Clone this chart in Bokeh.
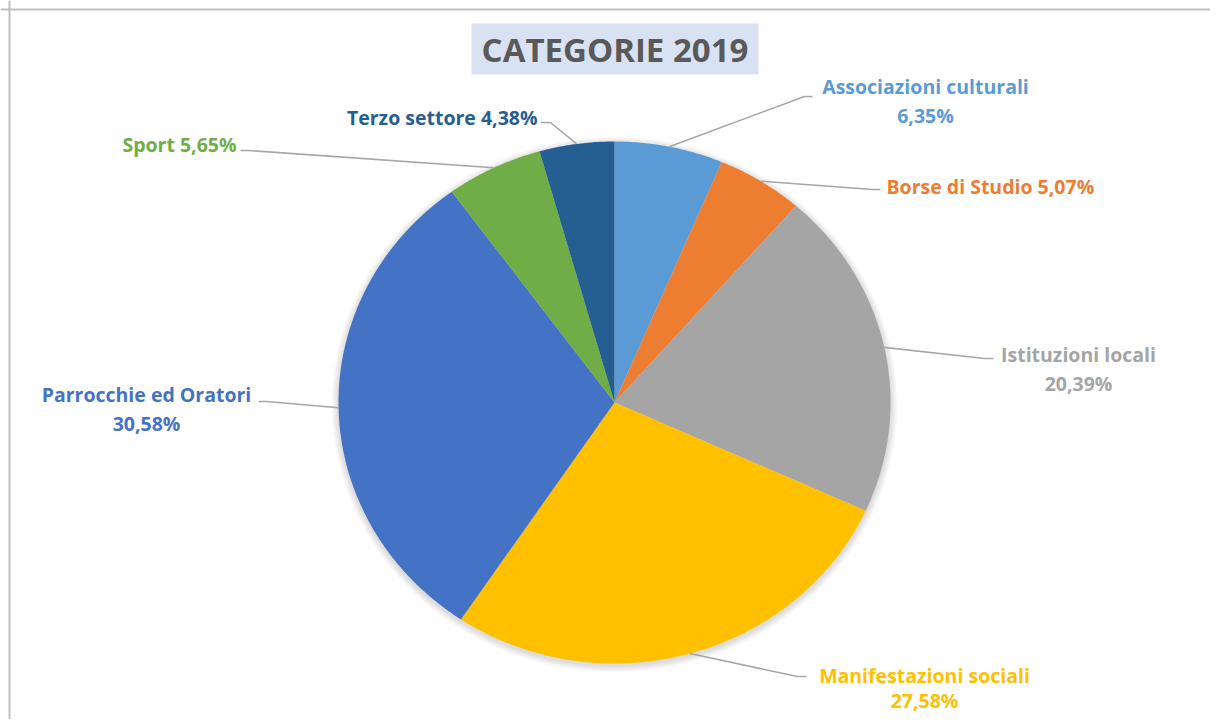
import numpy as np
from bokeh.plotting import figure
from bokeh.models import Range1d, Span
from bokeh.core.properties import value
from bokeh.embed import file_html
from bokeh.resources import INLINE

# ---- data ----
categories = ["Associazioni culturali", "Borse di Studio", "Istituzioni locali",
              "Manifestazioni sociali", "Parrocchie ed Oratori", "Sport", "Terzo settore"]
percent = [6.35, 5.07, 20.39, 27.58, 30.58, 5.65, 4.38]
pct_labels = ["6,35%", "5,07%", "20,39%", "27,58%", "30,58%", "5,65%", "4,38%"]
colors = ["#5B9BD5", "#ED7D31", "#A5A5A5", "#FFC000", "#4472C4", "#70AD47", "#255E91"]
title = "CATEGORIE 2019"

# ---- layout constants (picture pixels) ----
CX, CY, RX, RY = 614, 402, 276, 261
FONT = "Open Sans"
LBL = "19.5px"

W, H = 1210, 719
p = figure(width=W, height=H, output_backend="svg", toolbar_location=None,
           x_range=Range1d(0, W), y_range=Range1d(H, 0),
           min_border=0)
p.axis.visible = False
p.grid.visible = False
p.outline_line_color = None
p.background_fill_color = "white"
p.border_fill_color = "white"

# chart border (left / top edges visible)
p.add_layout(Span(location=9, dimension="height", line_color="#BFBFBF", line_width=2))
p.add_layout(Span(location=9, dimension="width", line_color="#BFBFBF", line_width=2))

# soft shadow
for k in range(1, 8):
    p.ellipse(x=CX, y=CY + 2, width=2 * (RX + k), height=2 * (RY + k),
              fill_color="black", fill_alpha=0.018, line_color=None)

# pie slices (clockwise from 12 o'clock), horizontally stretched
vals = np.array(percent) / sum(percent)
ends = np.cumsum(vals) * 2 * np.pi
starts = np.concatenate([[0], ends[:-1]])
xs, ys = [], []
for a0, a1 in zip(starts, ends):
    t = np.linspace(a0, a1, max(int((a1 - a0) * 120), 4))
    xs.append(np.concatenate([[CX], CX + RX * np.sin(t)]).tolist())
    ys.append(np.concatenate([[CY], CY - RY * np.cos(t)]).tolist())
p.patches(xs=xs, ys=ys, fill_color=colors, line_color=None)

# leader lines: start at slice mid-angle on rim, then elbow to the label
mids = (starts + ends) / 2
sx = CX + RX * np.sin(mids)
sy = CY - RY * np.cos(mids)
elbows = [
    [(804, 96), (812, 96)],
    [(872, 189), (880, 189)],
    [(984, 358), (993, 358)],
    [(797, 676), (806, 676)],
    [(266, 401), (258, 401)],
    [(248, 150), (240, 150)],
    [(550, 122), (540, 122)],
]
lx, ly = [], []
for i, e in enumerate(elbows):
    lx.append([sx[i]] + [pt[0] for pt in e])
    ly.append([sy[i]] + [pt[1] for pt in e])
p.multi_line(xs=lx, ys=ly, line_color="#A6A6A6", line_width=1.6)

# labels
lab = [
    (925, 86, "center", True, 29),
    (886, 186, "left", False, 0),
    (1078, 354, "center", True, 29),
    (924, 675, "center", True, 25),
    (146, 394, "center", True, 29),
    (236, 144, "right", False, 0),
    (537, 117, "right", False, 0),
]
for i, (x, y, al, two, dy) in enumerate(lab):
    if two:
        txt = [categories[i], pct_labels[i]]
        xx, yy = [x, x], [y, y + dy]
    else:
        txt = [categories[i] + " " + pct_labels[i]]
        xx, yy = [x], [y]
    p.text(x=xx, y=yy, text=txt, text_align=al, text_baseline="middle",
           text_color=colors[i], text_font=value(FONT), text_font_style="bold",
           text_font_size=LBL)

# title box
p.quad(left=[471], right=[758], top=[23], bottom=[74], fill_color="#D9E2F3", line_color=None)
p.text(x=[614.5], y=[49], text=[title], text_align="center", text_baseline="middle",
       text_color="#595959", text_font=value(FONT), text_font_style="bold",
       text_font_size="33px")

open("out.html", "w").write(file_html(p, INLINE))
